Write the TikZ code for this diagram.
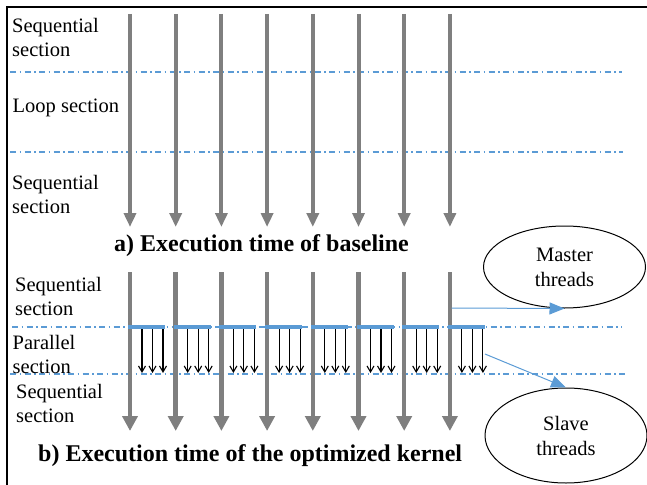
\documentclass[tikz,border=0pt]{standalone}
\usepackage{fontspec}
\setmainfont{Liberation Serif}
\usetikzlibrary{arrows.meta,shapes.geometric}
\definecolor{tgray}{HTML}{7F7F7F}
\definecolor{tblue}{HTML}{5B9BD5}
\begin{document}
\begin{tikzpicture}[x=1pt,y=-1pt,
  threadA/.style={draw=tgray, line width=4pt, -{Triangle[width=12pt,length=14pt]}},
  threadB/.style={draw=tgray, line width=4.5pt, -{Triangle[width=15pt,length=15pt]}},
  slavearrow/.style={draw=black, line width=1.1pt, -{Straight Barb[width=7pt,length=6pt]}},
  bar/.style={draw=tblue, line width=4pt},
  sep/.style={draw=tblue, line width=1.2pt, dash pattern=on 6pt off 3.5pt on 1.5pt off 3.5pt},
  pointer/.style={draw=tblue, line width=1pt, -{Triangle[width=12pt,length=15pt]}},
  lbl/.style={anchor=base west, inner sep=0pt, align=left, font=\fontsize{20.5}{24}\selectfont},
  ttl/.style={anchor=base west, inner sep=0pt, font=\fontsize{24}{28}\selectfont\bfseries},
  bubble/.style={draw, ellipse, line width=1pt, minimum width=162pt, inner sep=0pt, align=center, font=\fontsize{20.5}{25}\selectfont}
]
\useasboundingbox (0,0) rectangle (647,484);
% frame
\draw[line width=2pt] (7,500) -- (7,7) -- (660,7);

% separators
\draw[sep] (10,72) -- (622,72);
\draw[sep] (10,152) -- (623,152);
\draw[sep] (12,327) -- (622,327);
\draw[sep] (10,374) -- (625,374);

% labels (anchored at the baseline of the last line)
\node[lbl] (s1) at (12,57) {Sequential\\section};
\node[lbl] (loop) at (12.5,113) {Loop section};
\node[lbl] (s2) at (12,213) {Sequential\\section};
\node[ttl] (ta) at (114,251) {a) Execution time of baseline};
\node[lbl] (s3) at (15,315) {Sequential\\section};
\node[lbl] (par) at (12.5,373) {Parallel\\section};
\node[lbl] (s4) at (16,422) {Sequential\\section};
\node[ttl] (tb) at (38,461) {b) Execution time of the optimized kernel};

% threads
\foreach \i in {0,...,7}{
  \pgfmathsetmacro\xx{130+45.7*\i}
  \coordinate (a\i s) at (\xx,14);
  \coordinate (a\i e) at (\xx,227);
  \draw[threadA] (a\i s) -- (a\i e);
  \coordinate (b\i s) at (\xx,272);
  \coordinate (b\i e) at (\xx,431);
  \draw[threadB] (b\i s) -- (b\i e);
  \coordinate (bar\i l) at (\xx-2,327);
  \coordinate (bar\i r) at (\xx+35,327);
  \draw[bar] (bar\i l) -- (bar\i r);
  \foreach \d [count=\j] in {12,22.5,33}{
    \coordinate (k\i\j s) at (\xx+\d,329);
    \coordinate (k\i\j e) at (\xx+\d,373);
    \draw[slavearrow] (k\i\j s) -- (k\i\j e);
  }
}

% callouts
\node[bubble, minimum height=82pt] (master) at (564.5,267) {Master\\threads};
\node[bubble, minimum height=95pt] (slave) at (566,435.5) {Slave\\threads};
\coordinate (mstart) at (451.5,308);
\coordinate (sstart) at (485,354);
\draw[pointer] (mstart) -- (master.south);
\draw[pointer] (sstart) -- (slave.north);
\end{tikzpicture}
\end{document}
